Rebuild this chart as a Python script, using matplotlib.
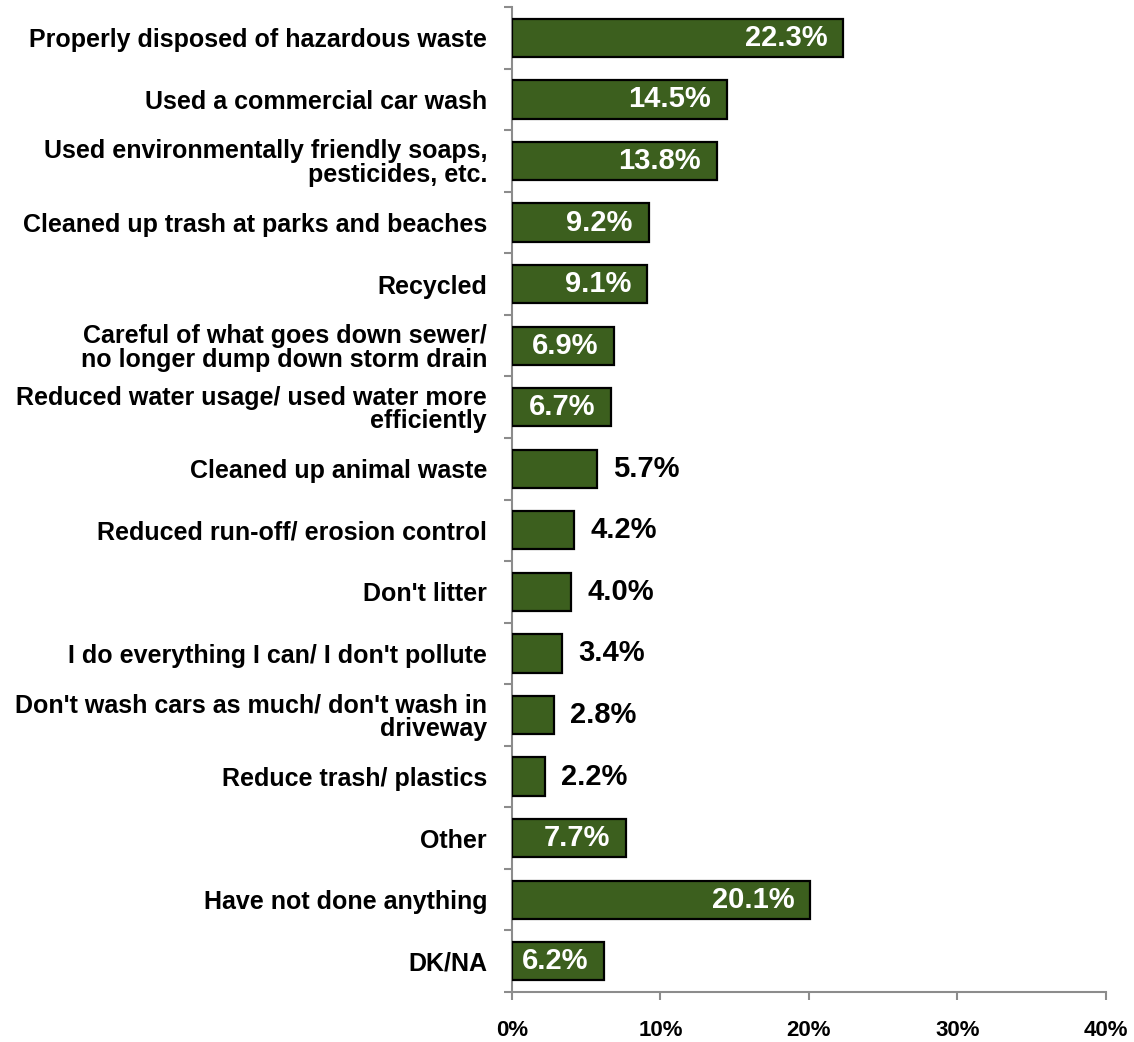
import numpy as np
import matplotlib
matplotlib.use("Agg")
import matplotlib.pyplot as plt

# --- data ---
categories = [
    "Properly disposed of hazardous waste",
    "Used a commercial car wash",
    "Used environmentally friendly soaps,\npesticides, etc.",
    "Cleaned up trash at parks and beaches",
    "Recycled",
    "Careful of what goes down sewer/\nno longer dump down storm drain",
    "Reduced water usage/ used water more\nefficiently",
    "Cleaned up animal waste",
    "Reduced run-off/ erosion control",
    "Don't litter",
    "I do everything I can/ I don't pollute",
    "Don't wash cars as much/ don't wash in\ndriveway",
    "Reduce trash/ plastics",
    "Other",
    "Have not done anything",
    "DK/NA",
]
values = [22.3, 14.5, 13.8, 9.2, 9.1, 6.9, 6.7, 5.7, 4.2, 4.0, 3.4, 2.8, 2.2, 7.7, 20.1, 6.2]
xticks = [0, 10, 20, 30, 40]

plt.rcParams['font.family'] = ['Liberation Sans', 'DejaVu Sans']
plt.rcParams['font.weight'] = 'bold'

fig = plt.figure(figsize=(11.34, 10.42), dpi=100)
ax = fig.add_axes([0.4515, 0.048, 0.5238, 0.9452])

y = np.arange(len(categories))
ax.barh(y, values, height=0.62, color='#3c5f1e', edgecolor='black', linewidth=1.6, zorder=3)

ax.set_ylim(len(categories) - 0.5, -0.5)
ax.set_xlim(0, 40)

# labels on bars: white inside for longer bars, black outside for short ones
for yi, v in zip(y, values):
    txt = f"{v:.1f}%"
    if v >= 6:
        ax.annotate(txt, (v, yi), xytext=(-11.5, 0), textcoords='offset points',
                    ha='right', va='center', color='white', fontsize=21,
                    fontweight='bold', zorder=4)
    else:
        ax.annotate(txt, (v, yi), xytext=(11.5, 0), textcoords='offset points',
                    ha='left', va='center', color='black', fontsize=21,
                    fontweight='bold', zorder=4)

# axes styling
for s in ['top', 'right']:
    ax.spines[s].set_visible(False)
for s in ['left', 'bottom']:
    ax.spines[s].set_color('#8c8c8c')
    ax.spines[s].set_linewidth(1.5)

ax.set_yticks(y)
ax.set_yticklabels(categories, fontsize=18, fontweight='bold', linespacing=0.98)
ax.tick_params(axis='y', which='major', length=0, pad=18)
ax.set_yticks(np.arange(len(categories) + 1) - 0.5, minor=True)
ax.tick_params(axis='y', which='minor', length=6, width=1.5, color='#8c8c8c', direction='out')

ax.set_xticks(xticks)
ax.set_xticklabels([f"{t}%" for t in xticks], fontsize=16, fontweight='bold')
ax.tick_params(axis='x', which='major', length=6, width=1.5, color='#8c8c8c', direction='out', pad=14)

fig.savefig("out.png", dpi=100)
